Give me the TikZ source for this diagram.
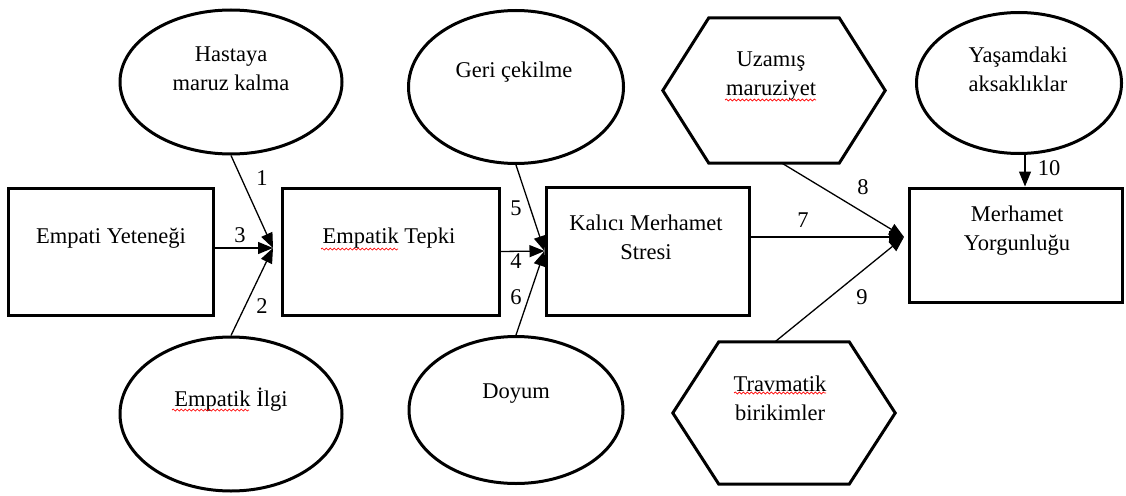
\documentclass[tikz,border=0pt]{standalone}
\usepackage{fontspec}
\setmainfont{Liberation Serif}
\usetikzlibrary{arrows.meta,shapes.geometric,calc,decorations.pathmorphing}

% hexagon drawn on the frame of an invisible rectangular node
\newcommand\hexoutline[1]{%
  \draw[outline] (#1.west) -- ([xshift=46pt]#1.north west) -- ([xshift=-46pt]#1.north east)
    -- (#1.east) -- ([xshift=-46pt]#1.south east) -- ([xshift=46pt]#1.south west) -- cycle;}

\begin{document}
\begin{tikzpicture}[x=1pt,y=-1pt,
  outline/.style={draw=black, line width=3pt},
  boxnode/.style={outline, rectangle, inner sep=0pt},
  ovalnode/.style={outline, ellipse, inner sep=0pt},
  hexframe/.style={rectangle, inner sep=0pt},
  lbl/.style={font=\fontsize{22.5pt}{29pt}\selectfont, align=center, inner sep=0pt},
  num/.style={font=\fontsize{22.5pt}{29pt}\selectfont, inner sep=0pt},
  link/.style={line width=1.3pt, -{Triangle[length=15pt,width=12pt]}},
  spell/.style={red, line width=0.7pt, decorate,
    decoration={snake, amplitude=1pt, segment length=4pt}}
]
\fill[white] (0,0) rectangle (1126,495);
\useasboundingbox (0,0) rectangle (1126,495);

% boxes
\node[boxnode, minimum width=205pt, minimum height=127pt] (b1) at (110.5,251.5) {};
\node[boxnode, minimum width=217pt, minimum height=127pt] (b2) at (390.5,251.5) {};
\node[boxnode, minimum width=203pt, minimum height=128pt] (b3) at (647.5,251) {};
\node[boxnode, minimum width=213pt, minimum height=114pt] (b4) at (1015.5,245) {};

% ellipses
\node[ovalnode, minimum width=222pt, minimum height=144pt] (e1) at (231,82) {};
\node[ovalnode, minimum width=222pt, minimum height=154pt] (e2) at (231,414) {};
\node[ovalnode, minimum width=215pt, minimum height=153pt] (e3) at (516,87) {};
\node[ovalnode, minimum width=214pt, minimum height=147pt] (e4) at (516,410) {};
\node[ovalnode, minimum width=205pt, minimum height=141pt] (e5) at (1019,83) {};

% hexagons
\node[hexframe, minimum width=222pt, minimum height=145pt] (h1) at (774,90.5) {};
\node[hexframe, minimum width=222pt, minimum height=142pt] (h2) at (784,413) {};
\hexoutline{h1}
\hexoutline{h2}

% texts
\node[lbl] (t1) at (231,69) {Hastaya\\maruz kalma};
\node[lbl] (t2) at (111,238) {Empati Yeteneği};
\node[lbl] (t3) at (389,238) {Empatik Tepki};
\node[lbl] (t4) at (231,400) {Empatik İlgi};
\node[lbl] (t5) at (514,72) {Geri çekilme};
\node[lbl] (t6) at (646,237) {Kalıcı Merhamet\\Stresi};
\node[lbl] (t7) at (516,394) {Doyum};
\node[lbl] (t8) at (771,76.5) {Uzamış\\maruziyet};
\node[lbl] (t9) at (780,398) {Travmatik\\birikimler};
\node[lbl] (t10) at (1018,69) {Yaşamdaki\\aksaklıklar};
\node[lbl] (t11) at (1017,230.5) {Merhamet\\Yorgunluğu};

% wavy underlines
\draw[spell] (321,249) -- (398,249);
\draw[spell] (172,410) -- (249,410);
\draw[spell] (725,100) -- (816,100);
\draw[spell] (734,393) -- (826,393);

% junction points
\coordinate (j1) at (273,248);
\coordinate (j3) at (904,237);
\coordinate (a10) at ($(e5.south)+(6,0)$);

% connectors
\draw[link] (e1.south) -- (j1);
\draw[link] (e2.north) -- (j1);
\draw[link] (b1.east |- j1) -- (j1);
\draw[link] (b2.east) -- (b3.west);
\draw[link] (e3.south) -- (b3.west);
\draw[link] (e4.north) -- (b3.west);
\draw[link] (b3.east |- j3) -- (j3);
\draw[link] ([xshift=8pt]h1.south) -- (j3);
\draw[link] ([xshift=-9pt]h2.north) -- (j3);
\draw[link] (a10) -- (a10 |- b4.north);

% path numbers
\node[num] (n1) at (262,178) {1};
\node[num] (n2) at (262,306) {2};
\node[num] (n3) at (240,235) {3};
\node[num] (n4) at (516,261) {4};
\node[num] (n5) at (516,208) {5};
\node[num] (n6) at (516,297) {6};
\node[num] (n7) at (803,220) {7};
\node[num] (n8) at (863,187) {8};
\node[num] (n9) at (862,297) {9};
\node[num] (n10) at (1049,168) {10};
\end{tikzpicture}
\end{document}
